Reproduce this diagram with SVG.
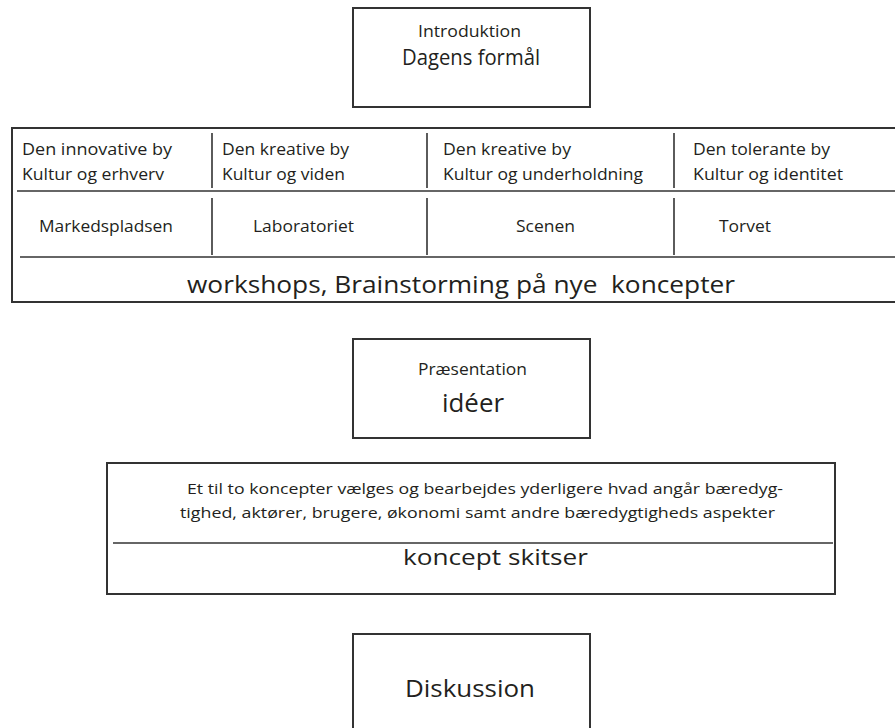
<svg xmlns="http://www.w3.org/2000/svg" width="895" height="728" viewBox="0 0 895 728">
<style>
.box{fill:#fff;stroke:#333;stroke-width:2}
.ln{stroke:#333;stroke-width:1.6;fill:none}
text{font-family:"Open Sans","Noto Sans","Liberation Sans",sans-serif;fill:#231f20;white-space:pre}
.s{font-size:16px}
.m{font-size:21px}
.l{font-size:24px}
</style>
<rect width="895" height="728" fill="#fff"/>
<g id="connectors"/>
<g id="intro">
<rect class="box" x="353" y="8" width="237" height="99"/>
<text class="s" x="418" y="37" textLength="103" lengthAdjust="spacingAndGlyphs">Introduktion</text>
<text class="m" x="402" y="65" textLength="138" lengthAdjust="spacingAndGlyphs">Dagens formål</text>
</g>
<g id="workshops">
<rect class="box" x="12" y="128" width="892" height="174"/>
<line class="ln" x1="17" y1="191" x2="895" y2="191"/>
<line class="ln" x1="20" y1="257" x2="895" y2="257"/>
<line class="ln" x1="212" y1="133" x2="212" y2="188"/>
<line class="ln" x1="427" y1="133" x2="427" y2="188"/>
<line class="ln" x1="674" y1="133" x2="674" y2="188"/>
<line class="ln" x1="212" y1="198" x2="212" y2="255"/>
<line class="ln" x1="427" y1="198" x2="427" y2="255"/>
<line class="ln" x1="674" y1="198" x2="674" y2="255"/>
<text class="s" x="22" y="155" textLength="150" lengthAdjust="spacingAndGlyphs">Den innovative by</text>
<text class="s" x="22" y="180" textLength="142" lengthAdjust="spacingAndGlyphs">Kultur og erhverv</text>
<text class="s" x="222" y="155" textLength="127" lengthAdjust="spacingAndGlyphs">Den kreative by</text>
<text class="s" x="222" y="180" textLength="123" lengthAdjust="spacingAndGlyphs">Kultur og viden</text>
<text class="s" x="443" y="155" textLength="128" lengthAdjust="spacingAndGlyphs">Den kreative by</text>
<text class="s" x="443" y="180" textLength="200" lengthAdjust="spacingAndGlyphs">Kultur og underholdning</text>
<text class="s" x="693" y="155" textLength="137" lengthAdjust="spacingAndGlyphs">Den tolerante by</text>
<text class="s" x="693" y="180" textLength="150" lengthAdjust="spacingAndGlyphs">Kultur og identitet</text>
<text class="s" x="39" y="232" textLength="134" lengthAdjust="spacingAndGlyphs">Markedspladsen</text>
<text class="s" x="253" y="232" textLength="101" lengthAdjust="spacingAndGlyphs">Laboratoriet</text>
<text class="s" x="516" y="232" textLength="59" lengthAdjust="spacingAndGlyphs">Scenen</text>
<text class="s" x="719" y="232" textLength="52" lengthAdjust="spacingAndGlyphs">Torvet</text>
<text class="l" x="187" y="293" textLength="548" lengthAdjust="spacingAndGlyphs">workshops, Brainstorming på nye  koncepter</text>
</g>
<g id="praesentation">
<rect class="box" x="353" y="339" width="237" height="99"/>
<text class="s" x="418" y="375" textLength="109" lengthAdjust="spacingAndGlyphs">Præsentation</text>
<text style="font-size:26px" x="442" y="412" textLength="62" lengthAdjust="spacingAndGlyphs">idéer</text>
</g>
<g id="koncept">
<rect class="box" x="107" y="463" width="728" height="131"/>
<line class="ln" x1="113" y1="543" x2="833" y2="543"/>
<text style="font-size:15px" x="187" y="494" textLength="596" lengthAdjust="spacingAndGlyphs">Et til to koncepter vælges og bearbejdes yderligere hvad angår bæredyg-</text>
<text style="font-size:15px" x="180" y="518" textLength="595" lengthAdjust="spacingAndGlyphs">tighed, aktører, brugere, økonomi samt andre bæredygtigheds aspekter</text>
<text class="m" x="403" y="565" textLength="185" lengthAdjust="spacingAndGlyphs">koncept skitser</text>
</g>
<g id="diskussion">
<rect class="box" x="353" y="634" width="237" height="100"/>
<text class="l" x="405" y="697" textLength="130" lengthAdjust="spacingAndGlyphs">Diskussion</text>
</g>
</svg>
